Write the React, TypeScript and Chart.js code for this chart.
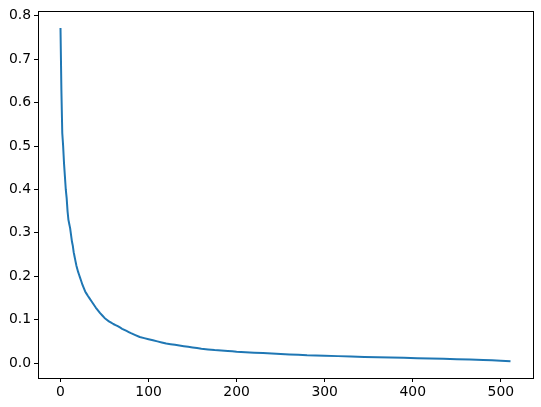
import React, { useEffect, useRef } from "react";
import { Chart, registerables } from "chart.js";

Chart.register(...registerables);

const xValues: number[] = [
  0, 1, 2, 3, 4, 5, 6, 7, 8, 9, 10, 11, 12, 13, 14, 15, 16, 17, 18, 20, 22, 25, 28, 31, 35, 40, 45, 50, 55, 60, 65, 70, 75, 80, 90, 100, 110, 120, 130, 140, 150, 160, 175, 190, 200, 220, 240, 260, 280, 300, 330, 360, 390, 420, 450, 480, 500, 511,
];
const yValues: number[] = [
  0.772, 0.63, 0.53, 0.5, 0.46, 0.43, 0.4, 0.38, 0.35, 0.33, 0.32, 0.31, 0.295, 0.28, 0.27, 0.255, 0.245, 0.235, 0.225, 0.21, 0.198, 0.18, 0.165, 0.155, 0.143, 0.128, 0.115, 0.104, 0.096, 0.09, 0.085, 0.079, 0.074, 0.069, 0.06, 0.055, 0.05, 0.045, 0.042, 0.039, 0.036, 0.033, 0.03, 0.028, 0.026, 0.024, 0.022, 0.02, 0.018, 0.017, 0.015, 0.0135, 0.012, 0.0105, 0.009, 0.007, 0.0055, 0.004,
];
const xTicks: number[] = [0, 100, 200, 300, 400, 500];
const yTicks: number[] = [0.0, 0.1, 0.2, 0.3, 0.4, 0.5, 0.6, 0.7, 0.8];

const FONT = { family: "'DejaVu Sans', sans-serif", size: 13.9 };

const framePlugin = {
  id: "frame",
  afterDraw(chart: any) {
    const { ctx, chartArea } = chart;
    ctx.save();
    ctx.strokeStyle = "#000";
    ctx.lineWidth = 1;
    ctx.strokeRect(
      Math.round(chartArea.left) + 0.5,
      Math.round(chartArea.top) + 0.5,
      Math.round(chartArea.right - chartArea.left),
      Math.round(chartArea.bottom - chartArea.top)
    );
    ctx.restore();
  },
};

export default function App() {
  const ref = useRef<HTMLCanvasElement | null>(null);
  useEffect(() => {
    if (!ref.current) return;
    const points = xValues.map((x, i) => ({ x, y: yValues[i] }));
    const xMin = 0, xMax = 511;
    const xPad = (xMax - xMin) * 0.05;
    const yMin = Math.min(...yValues), yMax = Math.max(...yValues);
    const yPad = (yMax - yMin) * 0.05;
    const chart = new Chart(ref.current, {
      type: "line",
      data: {
        datasets: [
          {
            data: points,
            borderColor: "#1f77b4",
            borderWidth: 2,
            borderJoinStyle: "round",
            borderCapStyle: "butt",
            pointRadius: 0,
            tension: 0.0001,
            fill: false,
          },
        ],
      },
      options: {
        responsive: false,
        animation: false,
        devicePixelRatio: 1,
        layout: { padding: { left: 0, right: 8, top: 9, bottom: 0 } },
        plugins: { legend: { display: false }, tooltip: { enabled: false } },
        scales: {
          x: {
            type: "linear",
            min: xMin - xPad,
            max: xMax + xPad,
            afterBuildTicks: (s: any) => {
              s.ticks = xTicks.map((v) => ({ value: v }));
            },
            afterFit: (s: any) => {
              s.height = 29;
            },
            border: { display: false },
            grid: {
              display: true,
              drawOnChartArea: false,
              drawTicks: true,
              tickLength: 4,
              color: "#000",
            },
            ticks: {
              color: "#000",
              font: FONT,
              padding: 2,
              maxRotation: 0,
              callback: (v: any) => String(v),
            },
          },
          y: {
            type: "linear",
            min: yMin - yPad,
            max: yMax + yPad,
            afterBuildTicks: (s: any) => {
              s.ticks = yTicks.map((v) => ({ value: v }));
            },
            afterFit: (s: any) => {
              s.width = 38;
            },
            border: { display: false },
            grid: {
              display: true,
              drawOnChartArea: false,
              drawTicks: true,
              tickLength: 4,
              color: "#000",
            },
            ticks: {
              color: "#000",
              font: FONT,
              padding: 3,
              callback: (v: any) => Number(v).toFixed(1),
            },
          },
        },
      },
      plugins: [framePlugin],
    });
    return () => chart.destroy();
  }, []);
  return (
    <div style={{ position: "fixed", left: 0, top: 0, width: 541, height: 407, background: "#fff" }}>
      <canvas ref={ref} width={541} height={407} />
    </div>
  );
}
